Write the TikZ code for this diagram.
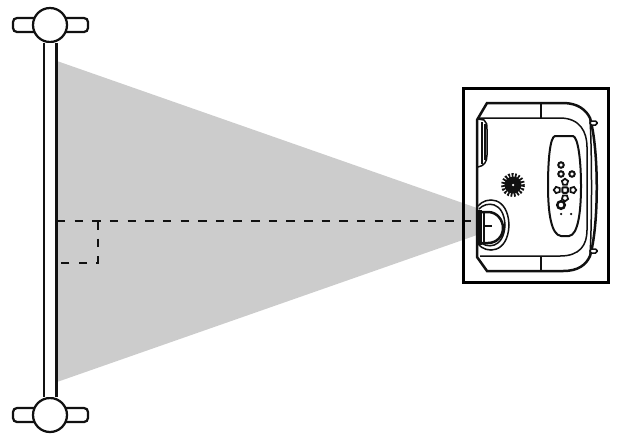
\documentclass[tikz,border=0pt]{standalone}
\usepackage{tikz}
\usetikzlibrary{shapes.geometric}

\definecolor{beam}{HTML}{CCCCCC}
\definecolor{ink}{HTML}{111111}

\tikzset{
  knob/.style={circle, draw=ink, fill=white, line width=0.045cm, minimum size=0.68cm, inner sep=0pt},
  knobbar/.style={rectangle, rounded corners=0.08cm, draw=ink, fill=white, line width=0.045cm, minimum width=1.5cm, minimum height=0.28cm, inner sep=0pt},
  axisline/.style={ink, line width=0.05cm, dash pattern=on 0.17cm off 0.183cm},
  body/.style={ink, line width=0.03cm},
  bodyfat/.style={ink, line width=0.05cm},
  btn/.style={circle, draw=ink, line width=0.04cm, minimum size=0.11cm, inner sep=0pt},
  bigbtn/.style={circle, draw=ink, line width=0.05cm, minimum size=0.15cm, inner sep=0pt},
  keybtn/.style={rectangle, rounded corners=0.02cm, draw=ink, line width=0.04cm, minimum size=0.11cm, inner sep=0pt},
  arrowbtn/.style={regular polygon, regular polygon sides=5, draw=ink, line width=0.035cm, minimum size=0.13cm, inner sep=0pt},
  dotbtn/.style={circle, fill=ink, minimum size=0.05cm, inner sep=0pt}
}

\begin{document}
\begin{tikzpicture}[x=0.02cm, y=-0.02cm]

\useasboundingbox (0,0) rectangle (617,434);

\coordinate (beamtop) at (57,61);
\coordinate (beambot) at (57,382);
\coordinate (lenstop) at (477,208);
\coordinate (lensbot) at (477,235);
\coordinate (axisL) at (57,221);
\coordinate (axisR) at (477,221);
\coordinate (corner) at (98,221);
\coordinate (cornerB) at (98,263);
\coordinate (shiftL) at (60,263);

\fill[beam] (beamtop) -- (lenstop) -- (lensbot) -- (beambot) -- cycle;

\node [knobbar] (topbar) at (50.5,25) {};
\node [knobbar] (botbar) at (50.5,415) {};
\node [knob] (topknob) at (50,25) {};
\node [knob] (botknob) at (50,415) {};
\draw[ink, line width=0.05cm, double=white, double distance=0.2cm] (topknob) -- (botknob);

\draw[axisline] (axisL) -- (axisR);
\draw[axisline] (corner) -- (cornerB) -- (shiftL);

\node [rectangle, draw=black, line width=0.06cm, minimum width=2.9cm, minimum height=3.9cm, inner sep=0pt] (frame) at (536,185.5) {};

% body
\draw[bodyfat] (487,103) -- (563,103) .. controls (578,103) and (586,110) .. (590,118)
  .. controls (599,150) and (599,225) .. (590,256) .. controls (586,265) and (578,271) .. (563,271)
  -- (487,271) -- (477,257) -- (477,120) -- cycle;
\draw[body] (478,118) -- (560,118) .. controls (580,118) and (587,132) .. (587,147)
  -- (587,230) .. controls (587,245) and (580,256) .. (560,256) -- (480,256);
\draw[body] (541,103) -- (541,118);
\draw[body] (541,256) -- (541,271);
\draw[body] (590,120) .. controls (592,150) and (592,225) .. (590,254);
\draw[body, fill=white, rounded corners=0.03cm] (590,121) rectangle (597,125);
\draw[body, fill=white, rounded corners=0.03cm] (590,249) rectangle (597,253);

% vent
\draw[body] (478,119) -- (484,120) .. controls (487,122) and (487,125) .. (487,130)
  -- (487,155) .. controls (487,162) and (484,166) .. (478,167);
\draw[body] (482,122) -- (482,164);
\draw[body] (485,124) -- (485,160);
\draw[bodyfat] (477,178) -- (477,192);

% speaker
\fill[ink] (513,185) circle (8.5);
\draw[ink, line width=0.08cm, dash pattern=on 0.035cm off 0.03cm] (513,185) circle (10);
\node [circle, fill=white, minimum size=0.05cm, inner sep=0pt] (speaker) at (513,185) {};

% panel
\draw[ink, line width=0.04cm] (555,136) -- (573,136) .. controls (578,137) and (581,160) .. (581,186)
  .. controls (581,212) and (578,235) .. (569,236) -- (561,236)
  .. controls (551,235) and (548,212) .. (548,186) .. controls (548,160) and (550,137) .. (555,136) -- cycle;

\node [btn] (b1) at (561,165) {};
\node [btn] (b2) at (561,174) {};
\node [btn] (b3) at (572,174) {};
\node [arrowbtn] (up) at (565,182) {};
\node [keybtn] (mid) at (565,190) {};
\node [arrowbtn, rotate=90] (lf) at (557,190) {};
\node [arrowbtn, rotate=-90] (rt) at (573,190) {};
\node [arrowbtn, rotate=180] (dn) at (565,198) {};
\node [bigbtn] (b4) at (561,205) {};
\node [dotbtn] (d1) at (561,214) {};
\node [dotbtn] (d2) at (571,214) {};

% lens
\draw[body] (478,206) .. controls (486,196) and (508,196) .. (509,225) .. controls (508,254) and (486,254) .. (478,244);
\draw[body] (479,209) .. controls (486,201) and (504,201) .. (505,225) .. controls (504,249) and (486,249) .. (479,241);
\draw[bodyfat, fill=white] (479,212) -- (488,212) .. controls (497,212) and (503,220) .. (503,228)
  .. controls (503,236) and (497,243) .. (488,243) -- (479,243);
\draw[ink, line width=0.07cm] (480,210) -- (480,245);
\draw[body] (484,212) -- (484,243);
\draw[body] (485,226) -- (492,226);

\end{tikzpicture}
\end{document}
